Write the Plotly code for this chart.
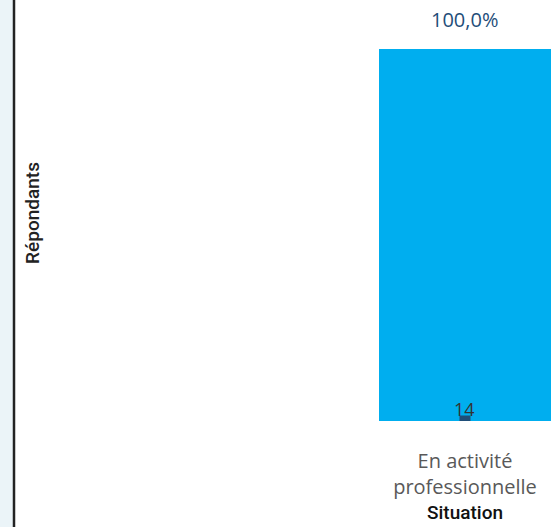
import plotly.graph_objects as go

categories = ["En activité<br>professionnelle"]
counts = [14]
percent_labels = ["100,0%"]
axis_x_title = "Situation"
axis_y_title = "Répondants"

W, H = 551, 527
L, R, T, B = 50, 0, 5, 106
plot_w = W - L - R

fig = go.Figure()
fig.add_trace(go.Bar(
    x=categories, y=counts, width=1.0,
    marker=dict(color="#00AEEF", line=dict(width=0)),
    showlegend=False, hoverinfo="skip",
))
fig.add_trace(go.Scatter(
    x=categories, y=[0], mode="markers",
    marker=dict(symbol="square", size=11, color="#1F4E79"),
    showlegend=False, hoverinfo="skip",
))

for cat, val, lab in zip(categories, counts, percent_labels):
    fig.add_annotation(x=cat, y=val, text=lab, showarrow=False,
                       yanchor="bottom", yshift=14,
                       font=dict(family="Open Sans", size=20, color="#1F4E79"))
    fig.add_annotation(x=cat, y=0, text=str(val), showarrow=False,
                       yanchor="bottom", yshift=-2,
                       font=dict(family="Open Sans", size=18, color="#333333"))

fig.add_annotation(x=categories[0], y=0, yref="y", text=axis_x_title, showarrow=False,
                   yanchor="middle", yshift=-91,
                   font=dict(family="Roboto", size=19, color="#111111", weight=500))

def px_to_paper(px):
    return (px - L) / plot_w

fig.add_shape(type="rect", xref="paper", yref="paper",
              x0=px_to_paper(-5), x1=px_to_paper(13), y0=-1, y1=2,
              fillcolor="#EBF4F8", line=dict(width=0), layer="below")
fig.add_shape(type="line", xref="paper", yref="paper",
              x0=px_to_paper(14), x1=px_to_paper(14), y0=-1, y1=2,
              line=dict(color="#222222", width=2.5))

fig.update_layout(
    width=W, height=H,
    margin=dict(l=L, r=R, t=T, b=B),
    paper_bgcolor="white", plot_bgcolor="white",
    bargap=0,
)
fig.update_xaxes(
    type="category", range=[-2.412, 0.5],
    showgrid=False, zeroline=False, showline=False,
    ticks="outside", ticklen=22, tickcolor="rgba(0,0,0,0)",
    tickfont=dict(family="Open Sans", size=20, color="#595959"),
)
fig.update_yaxes(
    range=[0, 15.66], showgrid=False, zeroline=False, showline=False,
    showticklabels=False, ticks="",
    title=dict(text=axis_y_title, font=dict(family="Roboto", size=19, color="#222222", weight=500), standoff=4),
)

fig.write_html("out.html", config={"displayModeBar": False},
               post_script="document.body.style.margin='0';document.body.style.overflow='hidden';")
